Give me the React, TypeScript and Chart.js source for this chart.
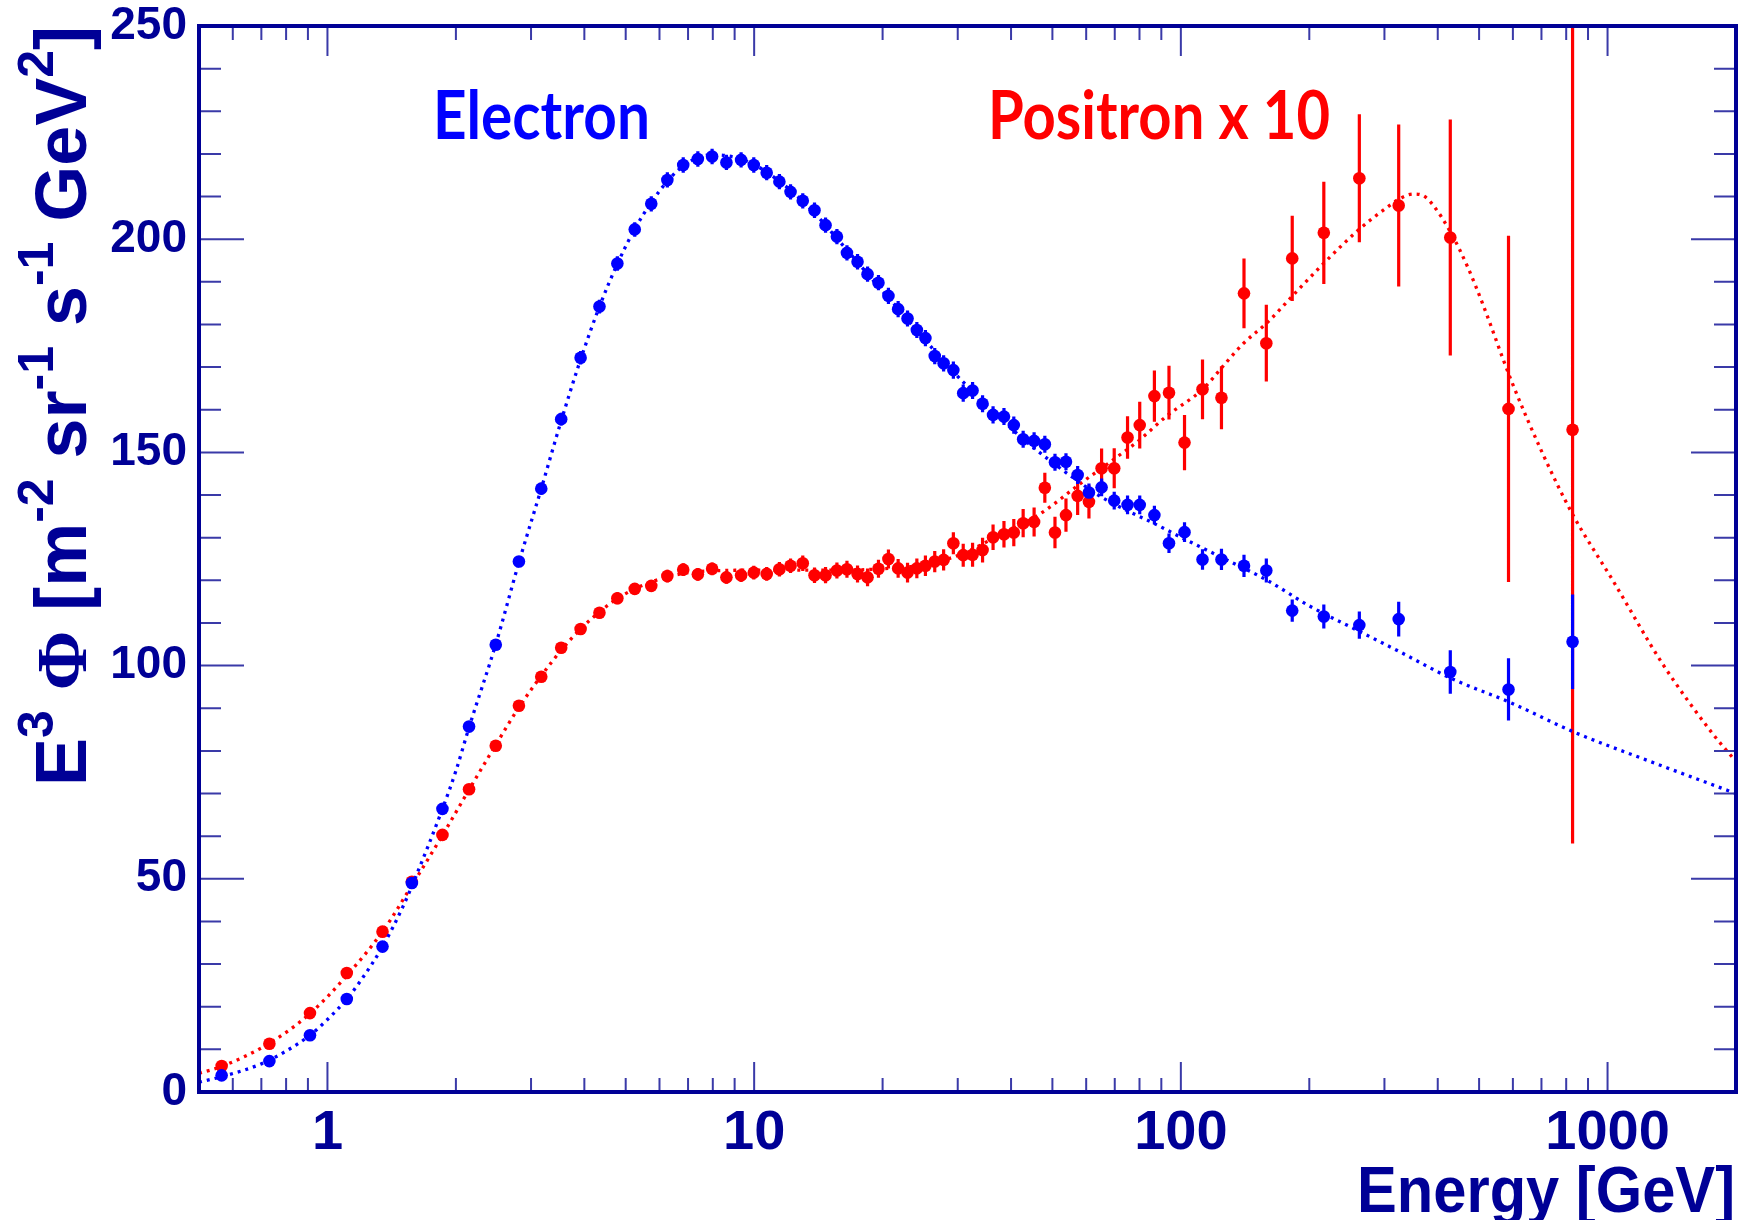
import React, { useEffect, useRef } from 'react';
import { Chart, registerables } from 'chart.js';

Chart.register(...registerables);

// ---------------- data ----------------
const energyBins = [
  0.565, 0.731, 0.91, 1.11, 1.346, 1.577, 1.86, 2.147, 2.48, 2.81,
  3.17, 3.53, 3.92, 4.34, 4.78, 5.25, 5.74, 6.26, 6.82, 7.38,
  7.97, 8.61, 9.32, 9.98, 10.7, 11.46, 12.17, 13.0, 13.85, 14.7,
  15.63, 16.5, 17.47, 18.44, 19.56, 20.64, 21.75, 22.88, 24.06, 25.2,
  26.5, 27.8, 29.3, 30.9, 32.5, 34.3, 36.3, 38.5, 40.6, 42.7,
  45.3, 48.0, 50.7, 53.8, 57.3, 60.9, 65.2, 69.8, 75.0, 80.1,
  86.7, 93.8, 102, 112.4, 124.5, 140.6, 158.6, 182.4, 216.3, 262,
  324, 428, 586, 828,
];

const electronFlux = [
  3.9, 7.25, 13.3, 21.8, 34.1, 49.0, 66.4, 85.7, 104.9, 124.4,
  141.5, 157.8, 172.2, 184.2, 194.3, 202.3, 208.3, 213.9, 217.4, 218.8,
  219.4, 218.0, 218.6, 217.4, 215.6, 213.5, 211.1, 209.0, 206.8, 203.3,
  200.6, 196.8, 194.7, 191.8, 189.8, 186.7, 183.6, 181.4, 178.7, 176.8,
  172.6, 170.9, 169.3, 163.9, 164.5, 161.4, 158.8, 158.4, 156.4, 153.1,
  152.7, 151.9, 147.7, 147.8, 144.7, 140.6, 141.8, 138.7, 137.7, 137.7,
  135.3, 128.7, 131.3, 124.9, 124.9, 123.4, 122.3, 112.9, 111.5, 109.5,
  110.9, 98.5, 94.4, 105.6,
];

const electronErr = [
  0.6, 0.6, 0.7, 0.8, 0.9, 1.0, 1.0, 1.1, 1.2, 1.3,
  1.4, 1.5, 1.6, 1.6, 1.7, 1.7, 1.8, 1.8, 1.8, 1.8,
  1.8, 1.8, 1.8, 1.8, 1.8, 1.8, 1.8, 1.8, 1.8, 1.8,
  1.8, 1.8, 1.8, 1.8, 1.8, 1.9, 1.9, 1.9, 1.9, 1.9,
  1.9, 1.9, 2.0, 2.0, 2.0, 2.0, 2.0, 2.0, 2.0, 2.0,
  2.0, 2.0, 2.0, 2.0, 2.1, 2.1, 2.1, 2.1, 2.2, 2.2,
  2.2, 2.3, 2.3, 2.4, 2.5, 2.6, 2.8, 2.6, 2.8, 3.2,
  4.1, 5.1, 7.3, 11.1,
];

const positronFlux = [
  6.1, 11.3, 18.5, 27.9, 37.6, 49.3, 60.3, 71.0, 81.2, 90.6,
  97.4, 104.2, 108.6, 112.4, 115.8, 118.0, 118.7, 121.0, 122.5, 121.4,
  122.7, 120.7, 121.2, 121.8, 121.5, 122.6, 123.4, 124.0, 121.2, 121.2,
  122.3, 122.6, 121.5, 120.7, 122.7, 125.0, 122.8, 121.8, 122.8, 123.4,
  124.4, 124.8, 128.7, 125.9, 126.0, 127.1, 130.1, 130.8, 131.2, 133.4,
  133.7, 141.7, 131.2, 135.3, 139.8, 138.4, 146.3, 146.3, 153.5, 156.4,
  163.2, 164.0, 152.3, 164.8, 162.8, 187.3, 175.6, 195.5, 201.5, 214.3,
  207.9, 200.4, 160.2, 155.3,
];

const positronErr = [
  0.6, 0.7, 0.8, 0.9, 1.0, 1.0, 1.1, 1.1, 1.2, 1.2,
  1.2, 1.3, 1.3, 1.3, 1.4, 1.4, 1.4, 1.5, 1.5, 1.5,
  1.5, 1.5, 1.6, 1.6, 1.6, 1.7, 1.7, 1.8, 1.8, 1.9,
  1.9, 2.0, 2.0, 2.1, 2.1, 2.2, 2.2, 2.3, 2.3, 2.4,
  2.5, 2.5, 2.6, 2.7, 2.8, 2.9, 3.0, 3.1, 3.2, 3.3,
  3.4, 3.5, 3.7, 3.9, 4.5, 3.9, 4.6, 4.7, 5.0, 5.5,
  6.0, 6.3, 6.5, 7.0, 7.4, 8.2, 9.0, 10.0, 12.0, 15.0,
  19.0, 27.7, 40.6, 97.0,
];

const electronFitE = [
  0.5, 0.565, 0.7, 0.8, 0.91, 1.0, 1.11, 1.2, 1.35, 1.5,
  1.6, 1.86, 2.0, 2.15, 2.48, 2.81, 3.17, 3.53, 3.92, 4.34,
  4.78, 5.25, 5.74, 6.26, 6.82, 7.4, 8.0, 8.6, 9.3, 10,
  11, 12.2, 13.85, 15.63, 17.47, 19.56, 21.75, 24.06, 26.5, 29.3,
  32.5, 36.3, 40.6, 45.3, 50.7, 57.3, 65.2, 75, 86.7, 100,
  125, 160, 200, 260, 325, 430, 590, 830, 1230, 2000,
];
const electronFitV = [
  2.3, 3.6, 6.6, 9.6, 13.3, 17.0, 21.8, 26.3, 34.3, 43.3,
  49.8, 66.4, 75.3, 85.7, 105.0, 124.2, 141.5, 157.4, 171.8, 184.2,
  194.2, 202.4, 208.6, 213.6, 217.2, 219.2, 219.8, 219.6, 218.8, 217.5,
  214.9, 211.4, 206.1, 200.2, 194.6, 188.9, 183.7, 178.6, 173.8, 168.9,
  164.3, 159.6, 155.1, 151.0, 147.2, 143.3, 139.5, 136.3, 133.3, 130.1,
  125.3, 119.9, 114.0, 108.2, 103.3, 97.0, 91.4, 84.5, 77.9, 70.0,
];

const positronFitE = [
  0.5, 0.565, 0.73, 0.91, 1.11, 1.35, 1.58, 1.86, 2.15, 2.48,
  2.81, 3.17, 3.53, 3.92, 4.34, 4.78, 5.25, 5.74, 6.26, 6.82,
  7.5, 8.5, 10, 13, 16, 20, 24, 28, 32, 36,
  41, 47, 58, 71, 80, 92, 113, 125, 140, 160,
  185, 216, 261, 300, 330, 350, 370, 390, 430, 470,
  509, 594, 704, 828, 1027, 1344, 1761, 2000,
];
const positronFitV = [
  4.4, 6.0, 11.4, 18.4, 27.3, 37.8, 48.6, 60.2, 71.0, 81.4,
  90.2, 97.6, 103.6, 108.6, 112.6, 115.7, 118.0, 119.6, 120.8, 121.6,
  122.1, 122.3, 122.4, 122.4, 122.4, 122.7, 123.4, 124.8, 127.0, 129.6,
  132.4, 135.7, 142.6, 149.0, 152.9, 158.3, 165.0, 170.0, 175.5, 180.6,
  187.3, 194.3, 202.2, 207.0, 209.8, 210.6, 210.2, 208.0, 201.4, 193.5,
  185.0, 167.0, 149.8, 135.5, 120.1, 100.5, 84.1, 77.5,
];

const xMajorTicks = [1, 10, 100, 1000];
const xMinorTicks = [
  0.6, 0.7, 0.8, 0.9,
  2, 3, 4, 5, 6, 7, 8, 9,
  20, 30, 40, 50, 60, 70, 80, 90,
  200, 300, 400, 500, 600, 700, 800, 900,
];
const yTicks = [0, 10, 20, 30, 40, 50, 60, 70, 80, 90, 100, 110, 120, 130, 140, 150, 160, 170, 180, 190, 200, 210, 220, 230, 240, 250];
const yLabelStep = 50;

const xTitle = 'Energy [GeV]';
const electronLabel = 'Electron';
const positronLabel = 'Positron x 10';
const yTitleParts = [
  { text: 'E', kind: 'main' },
  { text: '3', kind: 'sup' },
  { text: ' ', kind: 'main' },
  { text: 'Φ', kind: 'serif' },
  { text: ' [m', kind: 'main' },
  { text: '-2', kind: 'sup' },
  { text: ' sr', kind: 'main' },
  { text: '-1', kind: 'sup' },
  { text: ' s', kind: 'main' },
  { text: '-1', kind: 'sup' },
  { text: ' GeV', kind: 'main' },
  { text: '2', kind: 'sup' },
  { text: ']', kind: 'main' },
];

// ---------------- style ----------------
const NAVY = '#000096';
const TICK = '#3a3aa8';
const BLUE = '#0000ff';
const RED = '#ff0000';
const SANS = '"Liberation Sans", Arial, sans-serif';

function fitText(ctx: CanvasRenderingContext2D, text: string, font: string, x: number, y: number, width: number, align: 'left' | 'right', color: string) {
  ctx.save();
  ctx.font = font;
  ctx.fillStyle = color;
  ctx.textAlign = 'left';
  ctx.textBaseline = 'alphabetic';
  const w = ctx.measureText(text).width;
  const s = width / w;
  ctx.translate(align === 'right' ? x - width : x, y);
  ctx.scale(s, 1);
  ctx.fillText(text, 0, 0);
  ctx.restore();
}

const errorBarPlugin = {
  id: 'errorBars',
  beforeDatasetsDraw(chart: any) {
    const { ctx, chartArea: a, scales } = chart;
    const xs = scales.x, ys = scales.y;
    ctx.save();
    ctx.beginPath();
    ctx.rect(a.left, a.top, a.right - a.left, a.bottom - a.top);
    ctx.clip();
    ctx.lineWidth = 3.2;
    const draw = (vals: number[], errs: number[], color: string) => {
      ctx.strokeStyle = color;
      ctx.beginPath();
      energyBins.forEach((e, i) => {
        const px = xs.getPixelForValue(e);
        ctx.moveTo(px, ys.getPixelForValue(vals[i] - errs[i]));
        ctx.lineTo(px, ys.getPixelForValue(vals[i] + errs[i]));
      });
      ctx.stroke();
    };
    draw(positronFlux, positronErr, RED);
    draw(electronFlux, electronErr, BLUE);
    ctx.restore();
  },
};

const framePlugin = {
  id: 'frame',
  afterDatasetsDraw(chart: any) {
    const { ctx, chartArea: a, scales } = chart;
    const xs = scales.x, ys = scales.y;
    ctx.save();
    ctx.strokeStyle = TICK;
    ctx.lineWidth = 2;
    ctx.beginPath();
    yTicks.forEach((v) => {
      const py = ys.getPixelForValue(v);
      const len = v % yLabelStep === 0 ? 45 : 22;
      ctx.moveTo(a.left, py); ctx.lineTo(a.left + len, py);
      ctx.moveTo(a.right, py); ctx.lineTo(a.right - len, py);
    });
    xMinorTicks.forEach((v) => {
      const px = xs.getPixelForValue(v);
      ctx.moveTo(px, a.bottom); ctx.lineTo(px, a.bottom - 14);
      ctx.moveTo(px, a.top); ctx.lineTo(px, a.top + 14);
    });
    xMajorTicks.forEach((v) => {
      const px = xs.getPixelForValue(v);
      ctx.moveTo(px, a.bottom); ctx.lineTo(px, a.bottom - 30);
      ctx.moveTo(px, a.top); ctx.lineTo(px, a.top + 30);
    });
    ctx.stroke();
    ctx.strokeStyle = NAVY;
    ctx.lineWidth = 4;
    ctx.strokeRect(a.left, a.top, a.right - a.left, a.bottom - a.top);
    ctx.restore();
  },
};

const textPlugin = {
  id: 'texts',
  afterDraw(chart: any) {
    const { ctx } = chart;
    fitText(ctx, electronLabel, 'bold 66px Lato', 433, 139, 217, 'left', BLUE);
    fitText(ctx, positronLabel, 'bold 66px Lato', 988, 139, 342, 'left', RED);
    fitText(ctx, xTitle, `bold 65px ${SANS}`, 1735, 1212, 378, 'right', NAVY);

    // rotated y-axis title with superscripts
    const F = 72, FS = 50, RAISE = 33;
    const fontFor = (k: string) =>
      k === 'sup' ? `bold ${FS}px ${SANS}` : k === 'serif' ? `bold ${F}px "Liberation Serif", serif` : `bold ${F}px ${SANS}`;
    ctx.save();
    ctx.fillStyle = NAVY;
    ctx.textAlign = 'left';
    ctx.textBaseline = 'alphabetic';
    const widths = yTitleParts.map((p) => { ctx.font = fontFor(p.kind); return ctx.measureText(p.text).width; });
    const total = widths.reduce((s, w) => s + w, 0);
    const target = 760;
    ctx.translate(86, 786);
    ctx.rotate(-Math.PI / 2);
    ctx.scale(target / total, 1);
    let cx = 0;
    yTitleParts.forEach((p, i) => {
      ctx.font = fontFor(p.kind);
      ctx.fillText(p.text, cx, p.kind === 'sup' ? -RAISE : 0);
      cx += widths[i];
    });
    ctx.restore();
  },
};

const zeroPad = (s: any) => {
  s.paddingTop = 0;
  s.paddingBottom = 0;
  s.paddingLeft = 0;
  s.paddingRight = 0;
};

export default function App() {
  const canvasRef = useRef<HTMLCanvasElement | null>(null);

  useEffect(() => {
    const canvas = canvasRef.current;
    if (!canvas) return;
    const toPts = (xs: number[], ys: number[]) => xs.map((x, i) => ({ x, y: ys[i] }));
    const chart = new Chart(canvas, {
      type: 'scatter',
      data: {
        datasets: [
          {
            label: 'Electron',
            data: toPts(energyBins, electronFlux),
            backgroundColor: BLUE,
            borderColor: BLUE,
            pointRadius: 6.3,
            pointBorderWidth: 0,
            showLine: false,
            order: 0,
          },
          {
            label: 'Electron fit',
            type: 'line',
            data: toPts(electronFitE, electronFitV),
            borderColor: BLUE,
            borderWidth: 3.3,
            borderDash: [3, 5],
            pointRadius: 0,
            fill: false,
            cubicInterpolationMode: 'monotone',
            order: 1,
          },
          {
            label: 'Positron x 10',
            data: toPts(energyBins, positronFlux),
            backgroundColor: RED,
            borderColor: RED,
            pointRadius: 6.3,
            pointBorderWidth: 0,
            showLine: false,
            order: 2,
          },
          {
            label: 'Positron fit',
            type: 'line',
            data: toPts(positronFitE, positronFitV),
            borderColor: RED,
            borderWidth: 3.3,
            borderDash: [3, 5],
            pointRadius: 0,
            fill: false,
            cubicInterpolationMode: 'monotone',
            order: 3,
          },
        ] as any,
      },
      options: {
        animation: false,
        responsive: false,
        devicePixelRatio: 1,
        layout: { padding: { top: 26, right: 16, left: 0, bottom: 0 } },
        plugins: { legend: { display: false }, tooltip: { enabled: false } },
        scales: {
          x: {
            type: 'logarithmic',
            min: 0.5,
            max: 2000,
            grid: { display: false, drawTicks: false },
            border: { display: false },
            ticks: {
              color: NAVY,
              font: { family: SANS, size: 56, weight: 'bold', lineHeight: 1 },
              padding: 14,
              maxRotation: 0,
              autoSkip: false,
              callback: (v: any) => String(v),
            },
            afterBuildTicks: (s: any) => { s.ticks = xMajorTicks.map((v) => ({ value: v })); },
            afterFit: (s: any) => { s.height = 128; zeroPad(s); },
          },
          y: {
            type: 'linear',
            min: 0,
            max: 250,
            grid: { display: false, drawTicks: false },
            border: { display: false },
            ticks: {
              stepSize: yLabelStep,
              color: NAVY,
              font: { family: SANS, size: 46, weight: 'bold', lineHeight: 1 },
              padding: 12,
            },
            afterFit: (s: any) => { s.width = 199; zeroPad(s); },
          },
        },
      } as any,
      plugins: [errorBarPlugin, framePlugin, textPlugin],
    });
    return () => chart.destroy();
  }, []);

  return (
    <div style={{ position: 'absolute', left: 0, top: 0, width: 1752, height: 1220, background: '#ffffff' }}>
      <canvas ref={canvasRef} width={1752} height={1220} style={{ width: 1752, height: 1220, display: 'block' }} />
    </div>
  );
}
